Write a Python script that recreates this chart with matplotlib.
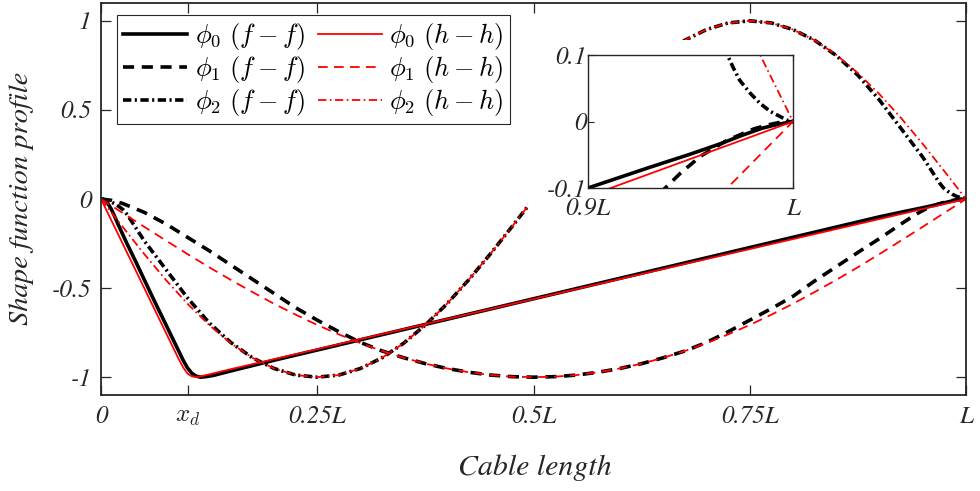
import matplotlib as mpl
mpl.use('agg')
import matplotlib.pyplot as plt
from matplotlib.patches import Rectangle

plt.rcParams['font.family'] = 'STIXGeneral'
plt.rcParams['font.style'] = 'italic'
plt.rcParams['mathtext.fontset'] = 'cm'
plt.rcParams['lines.scale_dashes'] = False

# position along the cable, x/L
x_grid = [0, 0.025, 0.05, 0.075, 0.1, 0.125, 0.15, 0.175, 0.2, 0.225, 0.25,
          0.275, 0.3, 0.325, 0.35, 0.375, 0.4, 0.425, 0.45, 0.475, 0.5,
          0.525, 0.55, 0.575, 0.6, 0.625, 0.65, 0.675, 0.7, 0.725, 0.75,
          0.775, 0.8, 0.825, 0.85, 0.875, 0.9, 0.925, 0.95, 0.975, 1.0]

# phi_0 : static-like profile with the kink at x_d
x_phi0_ff = [0, 0.004, 0.008, 0.012, 0.016, 0.02, 0.03, 0.04, 0.06, 0.08, 0.09,
             0.095, 0.1, 0.105, 0.11, 0.115, 0.12, 0.13, 0.15, 0.2, 0.9, 0.93,
             0.95, 0.965, 0.975, 0.985, 0.993, 1.0]
phi0_ff = [0, -0.006, -0.025, -0.058, -0.1, -0.145, -0.25, -0.35, -0.555, -0.755,
           -0.855, -0.905, -0.948, -0.978, -0.994, -1.0, -0.998, -0.99, -0.965,
           -0.905, -0.1, -0.069, -0.049, -0.033, -0.021, -0.01, -0.004, 0]
x_phi0_hh = [0, 0.02, 0.04, 0.06, 0.08, 0.09, 0.095, 0.1, 0.105, 0.11, 0.12,
             0.15, 0.2, 0.4, 0.6, 0.8, 1.0]
phi0_hh = [0, -0.2, -0.4, -0.6, -0.8, -0.9, -0.945, -0.98, -0.995, -1.0, -0.99,
           -0.955, -0.899, -0.674, -0.449, -0.225, 0]

# phi_1
x_phi1_ff = [0, 0.0125, 0.025, 0.05, 0.075, 0.1, 0.125, 0.15, 0.175, 0.2, 0.225,
             0.25, 0.275, 0.3, 0.325, 0.35, 0.375, 0.4, 0.425, 0.45, 0.475, 0.5,
             0.525, 0.55, 0.575, 0.6, 0.625, 0.65, 0.675, 0.7, 0.725, 0.75,
             0.775, 0.8, 0.825, 0.85, 0.875, 0.9, 0.925, 0.936, 0.945, 0.955,
             0.968, 0.981, 0.988, 0.994, 1.0]
phi1_ff = [0, -0.008, -0.025, -0.075, -0.14, -0.215, -0.29, -0.37, -0.45, -0.53,
           -0.61, -0.68, -0.745, -0.805, -0.853, -0.891, -0.924, -0.951, -0.972,
           -0.988, -0.997, -1.0, -0.997, -0.988, -0.972, -0.951, -0.924, -0.891,
           -0.853, -0.805, -0.745, -0.68, -0.615, -0.546, -0.46, -0.38, -0.30,
           -0.222, -0.14, -0.105, -0.078, -0.052, -0.028, -0.011, -0.005, -0.001, 0]
phi1_hh = [0, -0.078, -0.156, -0.233, -0.309, -0.383, -0.454, -0.522, -0.588,
           -0.649, -0.707, -0.760, -0.809, -0.853, -0.891, -0.924, -0.951, -0.972,
           -0.988, -0.997, -1.0, -0.997, -0.988, -0.972, -0.951, -0.924, -0.891,
           -0.853, -0.809, -0.760, -0.707, -0.649, -0.588, -0.522, -0.454,
           -0.383, -0.309, -0.233, -0.156, -0.078, 0]

# phi_2
x_phi2_ff = [0, 0.003, 0.006, 0.011, 0.016, 0.021, 0.026, 0.029, 0.032, 0.04,
             0.05, 0.075, 0.1, 0.125, 0.15, 0.175, 0.2, 0.225, 0.25, 0.275, 0.3,
             0.325, 0.35, 0.375, 0.4, 0.425, 0.45, 0.475, 0.5, 0.525, 0.55,
             0.575, 0.6, 0.625, 0.65, 0.675, 0.7, 0.725, 0.75, 0.775, 0.8, 0.825,
             0.85, 0.875, 0.9, 0.925, 0.95, 0.96, 0.968, 0.971, 0.974, 0.979,
             0.984, 0.989, 0.994, 0.997, 1.0]
phi2_ff = [0, -0.002, -0.007, -0.015, -0.027, -0.043, -0.062, -0.08, -0.1, -0.16,
           -0.235, -0.395, -0.555, -0.695, -0.805, -0.891, -0.951, -0.988, -1.0,
           -0.988, -0.951, -0.891, -0.809, -0.707, -0.588, -0.454, -0.309, -0.156,
           0, 0.156, 0.309, 0.454, 0.588, 0.707, 0.809, 0.891, 0.951, 0.988, 1.0,
           0.988, 0.951, 0.891, 0.805, 0.695, 0.555, 0.395, 0.235, 0.16, 0.1,
           0.08, 0.062, 0.043, 0.027, 0.015, 0.007, 0.002, 0]
phi2_hh = [0, -0.156, -0.309, -0.454, -0.588, -0.707, -0.809, -0.891, -0.951,
           -0.988, -1.0, -0.988, -0.951, -0.891, -0.809, -0.707, -0.588, -0.454,
           -0.309, -0.156, 0, 0.156, 0.309, 0.454, 0.588, 0.707, 0.809, 0.891,
           0.951, 0.988, 1.0, 0.988, 0.951, 0.891, 0.809, 0.707, 0.588, 0.454,
           0.309, 0.156, 0]

x_ticks = [0, 0.1, 0.25, 0.5, 0.75, 1.0]
x_ticklabels = ['0', r'$x_d$', '0.25L', '0.5L', '0.75L', 'L']
y_ticks = [-1, -0.5, 0, 0.5, 1]
y_ticklabels = ['-1', '-0.5', '0', '0.5', '1']

labels = [r'$\phi_0\ (f-f)$', r'$\phi_1\ (f-f)$', r'$\phi_2\ (f-f)$',
          r'$\phi_0\ (h-h)$', r'$\phi_1\ (h-h)$', r'$\phi_2\ (h-h)$']

dk = '#262626'
blw = 2.6
rlw = 1.3
dash_b = (0, (8, 5.5))
dashdot_b = (0, (6, 2.5, 1.5, 2.5))
dash_r = (0, (7, 4.5))
dashdot_r = (0, (6, 2.5, 1.2, 2.5))


def draw_curves(a):
    a.plot(x_phi0_ff, phi0_ff, color='k', lw=blw, ls='-')
    a.plot(x_phi1_ff, phi1_ff, color='k', lw=blw, ls=dash_b)
    a.plot(x_phi2_ff, phi2_ff, color='k', lw=blw, ls=dashdot_b)
    a.plot(x_phi0_hh, phi0_hh, color='r', lw=rlw, ls='-')
    a.plot(x_grid, phi1_hh, color='r', lw=rlw, ls=dash_r)
    a.plot(x_grid, phi2_hh, color='r', lw=rlw, ls=dashdot_r)


fig = plt.figure(figsize=(9.8, 4.91), dpi=100)
ax = fig.add_axes([101/980, 1-395/491, 865/980, 392/491])
draw_curves(ax)
ax.set_xlim(0, 1)
ax.set_ylim(-1.1, 1.1)
ax.set_xticks(x_ticks)
ax.set_xticklabels(x_ticklabels)
ax.set_yticks(y_ticks)
ax.set_yticklabels(y_ticklabels)
ax.tick_params(direction='in', length=7, width=0.9, top=True, right=True,
               labelsize=18, colors=dk, labelcolor=dk)
ax.tick_params(axis='x', pad=8)
ax.tick_params(axis='y', pad=7)
for sp in ax.spines.values():
    sp.set_color(dk)
    sp.set_linewidth(1.3)

leg = ax.legend(labels, loc='upper left', bbox_to_anchor=(117/980, 1-15/491),
                bbox_transform=fig.transFigure, ncol=2, fontsize=19,
                fancybox=False, framealpha=1, edgecolor=dk, borderaxespad=0,
                handlelength=2.45, handletextpad=0.27, columnspacing=0.5,
                labelspacing=0.08, borderpad=0.22)
leg.get_frame().set_linewidth(0.8)

fig.text(535/980, 1-475/491, 'Cable length', fontsize=21.5, color=dk,
         ha='center', va='baseline')
fig.text(22/980, 1-198/491, 'Shape function profile', fontsize=20.5, color=dk,
         ha='center', va='center', rotation=90)

# white backing behind the zoom window
ax.add_patch(Rectangle((528/980, 1-228/491), 280/980, 188/491,
                       transform=fig.transFigure, facecolor='white',
                       edgecolor='none', zorder=10, clip_on=False))

# zoom on the right anchorage
axin = fig.add_axes([588/980, 1-188/491, 205/980, 133/491])
draw_curves(axin)
axin.set_xlim(0.9, 1.0)
axin.set_ylim(-0.1, 0.1)
axin.set_xticks([0.9, 1.0])
axin.set_xticklabels(['0.9L', 'L'])
axin.set_yticks([-0.1, 0, 0.1])
axin.set_yticklabels(['-0.1', '0', '0.1'])
axin.tick_params(direction='in', length=4, width=0.8, top=True, right=True,
                 labelsize=18, colors=dk, labelcolor=dk)
axin.tick_params(axis='x', pad=7)
axin.tick_params(axis='y', pad=1)
for sp in axin.spines.values():
    sp.set_color(dk)
    sp.set_linewidth(1.0)

fig.savefig('out.png', dpi=100)
